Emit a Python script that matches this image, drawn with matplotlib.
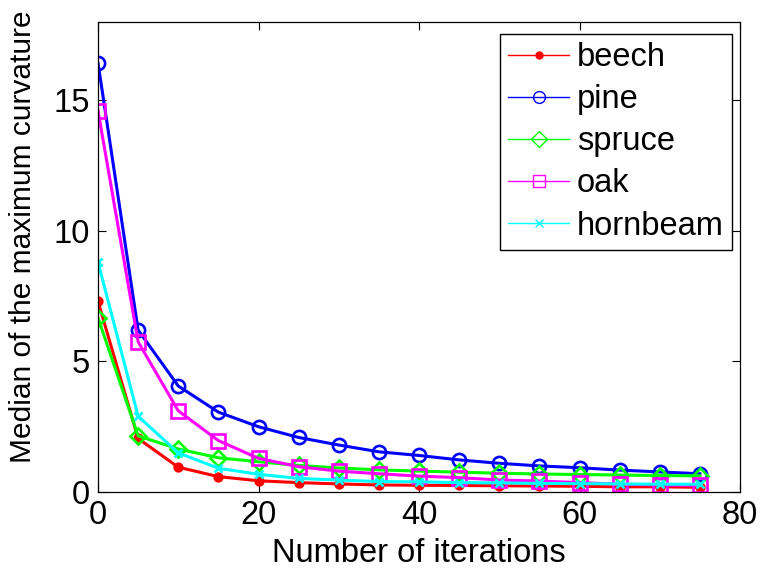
import matplotlib
matplotlib.use("Agg")
import matplotlib.pyplot as plt
from matplotlib.lines import Line2D

plt.rcParams['font.family'] = ['Liberation Sans', 'DejaVu Sans']

iterations = [0, 5, 10, 15, 20, 25, 30, 35, 40, 45, 50, 55, 60, 65, 70, 75]
beech = [7.3, 2.05, 0.95, 0.59, 0.43, 0.36, 0.31, 0.27, 0.26, 0.25, 0.24, 0.23, 0.22, 0.2, 0.2, 0.18]
pine = [16.43, 6.2, 4.06, 3.06, 2.5, 2.09, 1.8, 1.54, 1.4, 1.23, 1.1, 1.0, 0.93, 0.84, 0.77, 0.7]
spruce = [6.67, 2.15, 1.65, 1.31, 1.16, 1.02, 0.92, 0.85, 0.8, 0.76, 0.72, 0.69, 0.67, 0.65, 0.63, 0.62]
oak = [14.6, 5.75, 3.11, 1.97, 1.29, 0.97, 0.8, 0.7, 0.61, 0.55, 0.46, 0.42, 0.36, 0.3, 0.27, 0.25]
hornbeam = [8.8, 2.9, 1.5, 0.91, 0.68, 0.52, 0.46, 0.4, 0.39, 0.36, 0.35, 0.33, 0.32, 0.31, 0.3, 0.3]

names = ['beech', 'pine', 'spruce', 'oak', 'hornbeam']
series = [beech, pine, spruce, oak, hornbeam]
colors = ['#ff0000', '#0000ff', '#00ff00', '#ff00ff', '#00ffff']
markers = ['.', 'o', 'D', 's', 'x']
msizes = [11, 9.5, 8.5, 9.5, 6]
leg_msizes = [10, 8.5, 8, 8.5, 5.5]

fig = plt.figure(figsize=(7.61, 5.70), dpi=100)
ax = fig.add_axes([0.1288, 0.1368, 0.9724 - 0.1288, 0.9614 - 0.1368])

for ys, c, m, ms in zip(series, colors, markers, msizes):
    ax.plot(iterations, ys, color=c, marker=m, markersize=ms, linewidth=2.2,
            markeredgewidth=1.9, markerfacecolor='none' if m in 'oDs' else c,
            markeredgecolor=c)

ax.set_xlim(0, 80)
ax.set_ylim(0, 18)
ax.set_xticks([0, 20, 40, 60, 80])
ax.set_yticks([0, 5, 10, 15])
ax.tick_params(direction='in', top=True, right=True, labelsize=23.5, length=6,
               width=0.8, pad=6)
for s in ax.spines.values():
    s.set_linewidth(0.9)
ax.set_xlabel('Number of iterations', fontsize=23.5, labelpad=5)
ax.set_ylabel('Median of the maximum curvature', fontsize=21.5)
ax.yaxis.set_label_coords(-0.095, 0.5426)

handles = []
for n, c, m, ms in zip(names, colors, markers, leg_msizes):
    handles.append(Line2D([0], [0], color=c, marker=m, linewidth=1,
                          markersize=ms, markeredgewidth=1,
                          markerfacecolor='none' if m in 'oDs' else c,
                          markeredgecolor=c, label=n))
leg = ax.legend(handles=handles, loc='upper right', fontsize=23.5, frameon=True,
                fancybox=False, edgecolor='black', framealpha=1,
                handlelength=1.85, handletextpad=0.25, borderpad=0.25,
                labelspacing=0.34, borderaxespad=0,
                bbox_to_anchor=(0.9875, 0.9745))
leg.get_frame().set_linewidth(1.0)

fig.savefig('out.png', dpi=100)
